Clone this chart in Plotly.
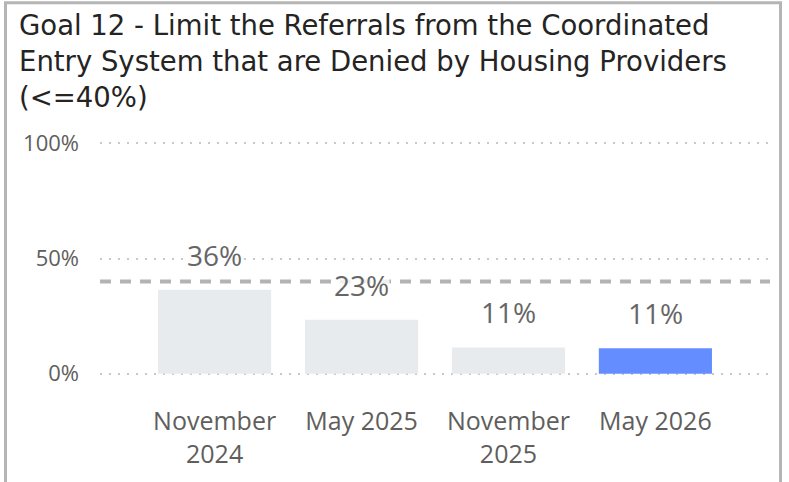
import plotly.graph_objects as go

# ---- data ----
categories = ["November 2024", "May 2025", "November 2025", "May 2026"]
tick_labels = ["November<br>2024", "May 2025", "November<br>2025", "May 2026"]
denied_share = [0.364, 0.234, 0.114, 0.110]
bar_colors = ["#E8EBED", "#E8EBED", "#E8EBED", "#648DFF"]
goal_threshold = 0.40
y_tick_values = [0, 0.5, 1.0]
y_tick_labels = ["0%", "50%", "100%"]
title_text = ("Goal 12 - Limit the Referrals from the Coordinated<br>"
              "Entry System that are Denied by Housing Providers<br>(<=40%)")

W, H = 789, 482
ML, MR, MT, MB = 100, 19, 141, 104
pw = W - ML - MR
ph = H - MT - MB

fig = go.Figure()
fig.add_trace(go.Bar(
    x=categories, y=denied_share,
    marker=dict(color=bar_colors, line=dict(width=0)),
    hoverinfo="skip",
))

# goal threshold dashed line
fig.add_shape(type="line", xref="paper", yref="y", x0=0, x1=1,
              y0=goal_threshold, y1=goal_threshold,
              line=dict(color="#B3B3B3", width=4, dash="11px,9px"), layer="above")

# data labels
for c, v in zip(categories, denied_share):
    fig.add_annotation(x=c, y=v, xref="x", yref="y", text=f"{round(v*100)}%",
                       showarrow=False, yanchor="middle", yshift=35,
                       font=dict(family="Open Sans", size=28, color="#666666"),
                       bgcolor="rgba(255,255,255,0.8)", borderpad=0)

# frame
def px_x(p):
    return (p - ML) / pw
def px_y(p):
    return 1 - (p - MT) / ph

fig.add_shape(type="rect", xref="paper", yref="paper",
              x0=px_x(5.5), x1=px_x(780.5), y0=px_y(495), y1=px_y(1.5),
              line=dict(color="#B5B5B5", width=3), fillcolor="rgba(0,0,0,0)", layer="above")

fig.update_layout(
    width=W, height=H,
    margin=dict(l=ML, r=MR, t=MT, b=MB, pad=0),
    paper_bgcolor="white", plot_bgcolor="white",
    bargap=0.23,
    showlegend=False,
    title=dict(text=title_text, x=19 / W, xanchor="left", xref="container",
               y=1 - 35 / H, yanchor="top", yref="container",
               font=dict(family="DejaVu Sans", size=27.5, color="#252423")),
    xaxis=dict(type="category", range=[-0.78, 3.78],
               tickvals=categories, ticktext=tick_labels,
               tickfont=dict(family="Open Sans", size=25, color="#605E5C"),
               showgrid=False, zeroline=False, showline=False, ticks="",
               ticklabelstandoff=28),
    yaxis=dict(range=[-0.01, 1.01], tickvals=y_tick_values, ticktext=y_tick_labels,
               tickfont=dict(family="Open Sans", size=22, color="#605E5C"),
               showgrid=True, gridcolor="#C8C8C8", gridwidth=1.5, griddash="2px,7px",
               zeroline=False, showline=False, ticks="", ticklabelstandoff=20),
)

fig.write_html("out.html", config={"displayModeBar": False},
               post_script="document.body.style.margin='0';")
